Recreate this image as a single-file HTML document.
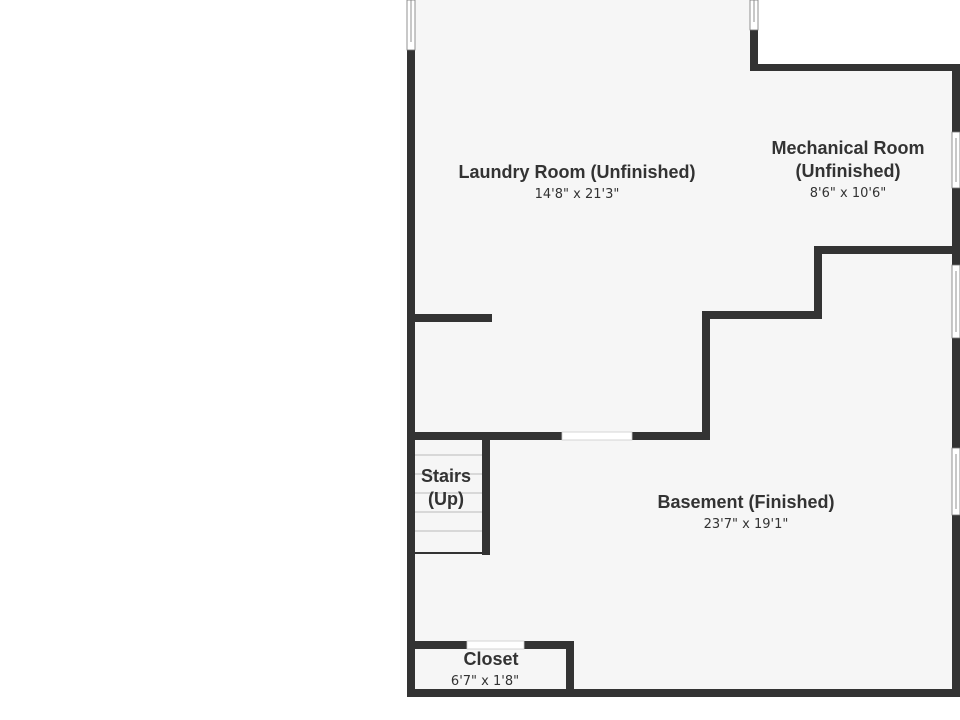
<!DOCTYPE html>
<html><head><meta charset="utf-8"><style>
html,body{margin:0;padding:0;background:#fff;}
svg{display:block}
text{font-family:"Liberation Sans",sans-serif;fill:#333;font-weight:bold;text-anchor:middle}
.t{font-size:18px}
.s{font-size:13px;font-weight:normal;font-family:"DejaVu Sans",sans-serif}
</style></head><body>
<svg width="960" height="720" viewBox="0 0 960 720" xmlns="http://www.w3.org/2000/svg">
<rect width="960" height="720" fill="#fff"/>
<polygon points="411,0 754,0 754,68 956,68 956,693 411,693" fill="#f6f6f6"/>
<g fill="#333">
<rect x="407" y="50" width="8" height="647"/>
<rect x="407" y="689" width="553" height="8"/>
<rect x="952" y="64" width="8" height="68"/>
<rect x="952" y="188" width="8" height="77"/>
<rect x="952" y="338" width="8" height="110"/>
<rect x="952" y="515" width="8" height="182"/>
<rect x="750" y="30" width="8" height="41"/>
<rect x="750" y="64" width="210" height="7"/>
<rect x="407" y="314" width="85" height="8"/>
<rect x="407" y="432" width="155" height="8"/>
<rect x="632" y="432" width="78" height="8"/>
<rect x="702" y="311" width="8" height="129"/>
<rect x="702" y="311" width="120" height="8"/>
<rect x="814" y="246" width="8" height="73"/>
<rect x="814" y="246" width="146" height="8"/>
<rect x="482" y="432" width="8" height="123"/>
<rect x="415" y="552" width="67" height="2"/>
<rect x="407" y="641" width="60" height="8"/>
<rect x="524" y="641" width="50" height="8"/>
<rect x="566" y="641" width="8" height="56"/>
</g>
<rect x="562" y="432" width="70" height="8" fill="#fff" stroke="#ccc" stroke-width="0.8"/>
<rect x="467" y="641" width="57" height="8" fill="#fff" stroke="#ccc" stroke-width="0.8"/>
<g fill="#fff" stroke="#777" stroke-width="0.8">
<rect x="407" y="0" width="8" height="50"/>
<line x1="411" y1="0" x2="411" y2="42"/>
<rect x="750" y="0" width="8" height="30"/>
<line x1="754" y1="0" x2="754" y2="22"/>
<rect x="952" y="132" width="8" height="56"/>
<line x1="956" y1="138" x2="956" y2="182"/>
<rect x="952" y="265" width="8" height="73"/>
<line x1="956" y1="271" x2="956" y2="332"/>
<rect x="952" y="448" width="8" height="67"/>
<line x1="956" y1="454" x2="956" y2="509"/>
</g>
<g stroke="#bbb" stroke-width="1">
<line x1="415" y1="455" x2="482" y2="455"/>
<line x1="415" y1="474" x2="482" y2="474"/>
<line x1="415" y1="493" x2="482" y2="493"/>
<line x1="415" y1="512" x2="482" y2="512"/>
<line x1="415" y1="531" x2="482" y2="531"/>
</g>
<text class="t" x="577" y="178">Laundry Room (Unfinished)</text>
<text class="s" x="577" y="198">14'8" x 21'3"</text>
<text class="t" x="848" y="154">Mechanical Room</text>
<text class="t" x="848" y="177">(Unfinished)</text>
<text class="s" x="848" y="197">8'6" x 10'6"</text>
<text class="t" x="446" y="482">Stairs</text>
<text class="t" x="446" y="505">(Up)</text>
<text class="t" x="746" y="508">Basement (Finished)</text>
<text class="s" x="746" y="528">23'7" x 19'1"</text>
<text class="t" x="491" y="665">Closet</text>
<text class="s" x="485" y="685">6'7" x 1'8"</text>
</svg>
</body></html>
